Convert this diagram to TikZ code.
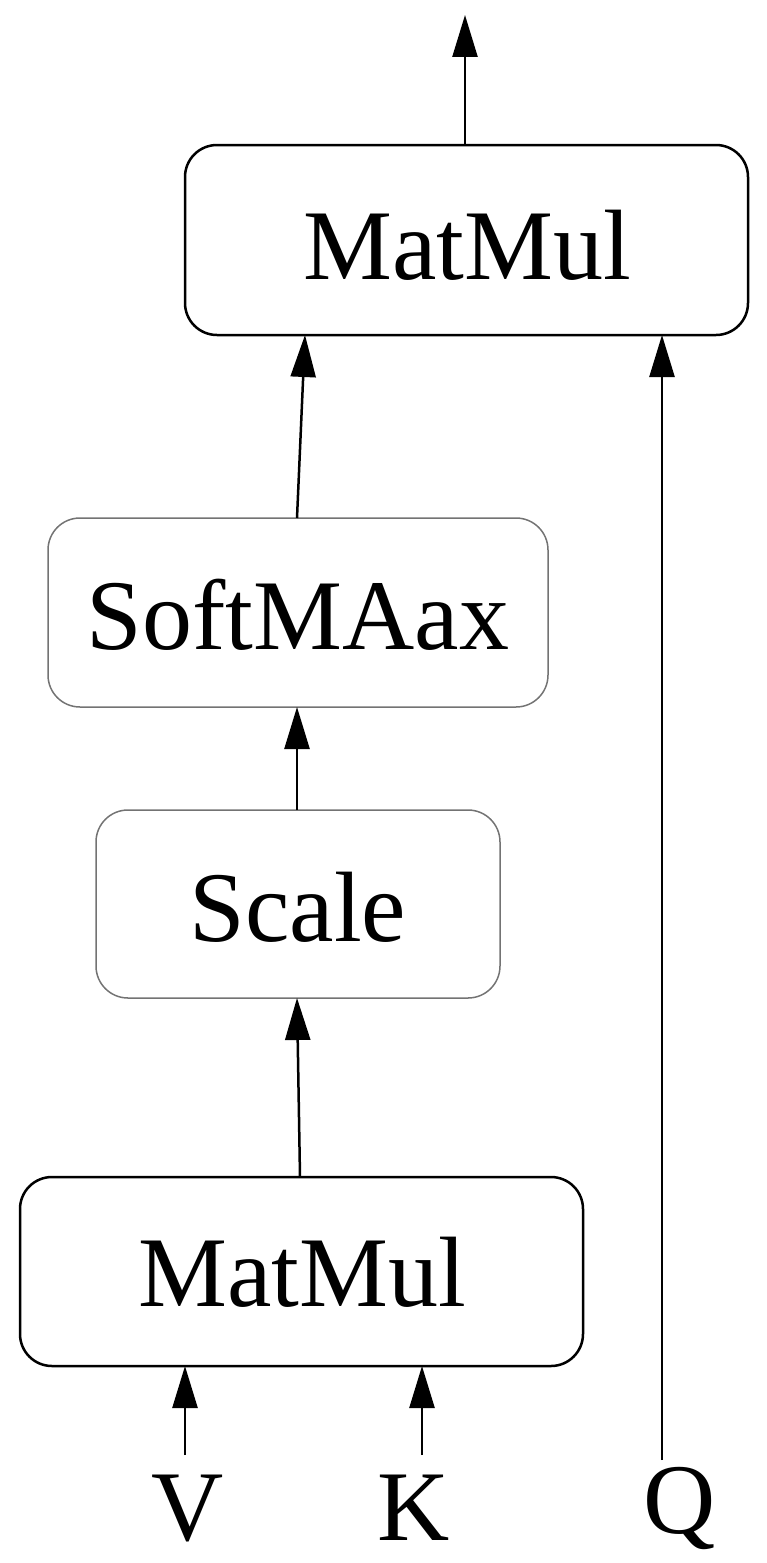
\documentclass[tikz,border=0pt]{standalone}
\usepackage{fontspec}
\setmainfont{Liberation Serif}
\usetikzlibrary{arrows.meta}
\begin{document}
\begin{tikzpicture}[x=1pt,y=-1pt,
  box/.style={draw, rounded corners=32pt, line width=2.5pt},
  lbox/.style={draw=black!55, rounded corners=32pt, line width=1.5pt},
  arr/.style={line width=2.5pt, -{Triangle[length=42pt,width=25pt]}},
  txt/.style={font=\fontsize{100}{110}\selectfont}]
\useasboundingbox (0,0) rectangle (767,1563);
\draw[box] (185,145) rectangle (748,335);
\node[txt] (mm2) at (467,245) {MatMul};
\draw[lbox] (48,518) rectangle (548,707);
\node[txt] (sm) at (298,615) {SoftMAax};
\draw[lbox] (96,810) rectangle (500,998);
\node[txt] (sc) at (298,907) {Scale};
\draw[box] (20,1177) rectangle (583,1366);
\node[txt] (mm1) at (302,1272) {MatMul};
\coordinate (top) at (465,15);
\coordinate (mm2b) at (465,145);
\coordinate (smt) at (297,518);
\coordinate (mm2l) at (305,335);
\coordinate (sct) at (297,810);
\coordinate (smb) at (297,707);
\coordinate (mm1t) at (300,1177);
\coordinate (scb) at (297,998);
\coordinate (qs) at (662,1460);
\coordinate (qe) at (662,335);
\coordinate (vs) at (185,1455);
\coordinate (ve) at (185,1366);
\coordinate (ks) at (422,1455);
\coordinate (ke) at (422,1366);
\draw[arr] (mm2b) -- (top);
\draw[arr] (smt) -- (mm2l);
\draw[arr] (sct) -- (smb);
\draw[arr] (mm1t) -- (scb);
\draw[arr] (qs) -- (qe);
\draw[arr] (vs) -- (ve);
\draw[arr] (ks) -- (ke);
\node[txt] (V) at (188,1508) {V};
\node[txt] (K) at (414,1508) {K};
\node[txt] (Q) at (680,1508) {Q};
\end{tikzpicture}
\end{document}
